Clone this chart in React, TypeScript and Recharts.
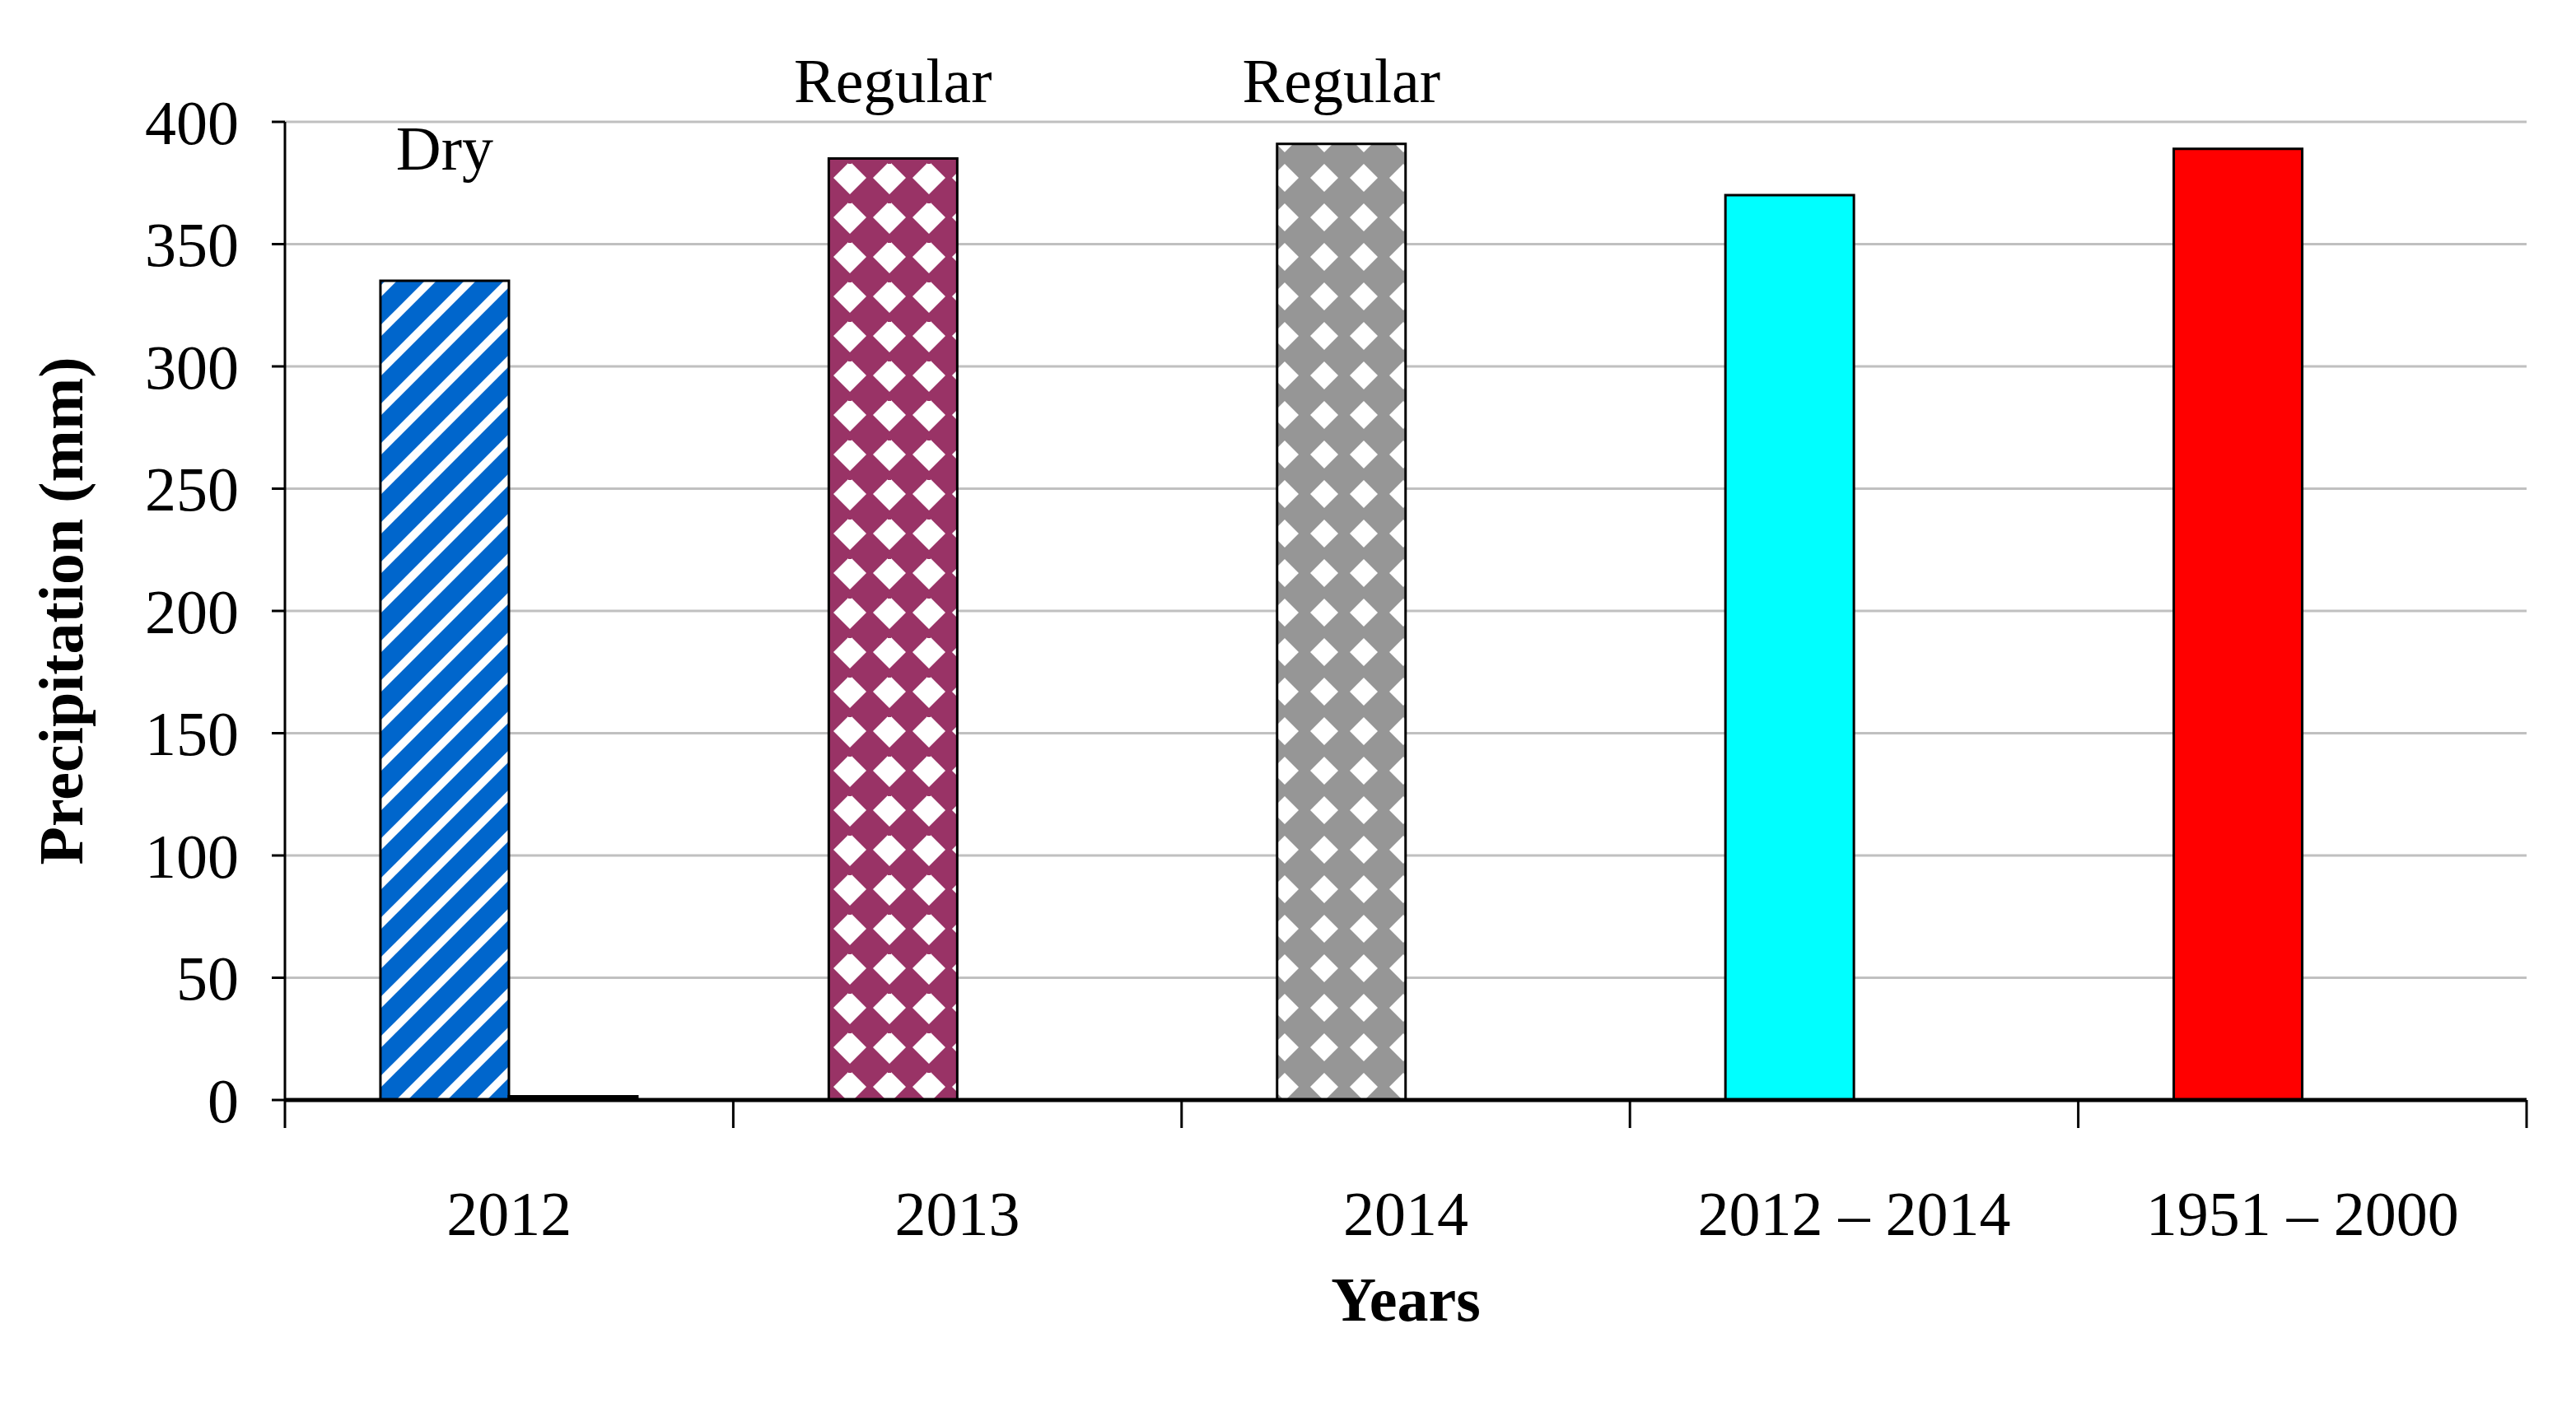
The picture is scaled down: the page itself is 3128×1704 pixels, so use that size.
import React from "react";
import {
  BarChart,
  Bar,
  Cell,
  XAxis,
  YAxis,
  CartesianGrid,
  LabelList,
  Label,
} from "recharts";

const categories = ["2012", "2013", "2014", "2012 – 2014", "1951 – 2000"];
const precipitation = [335, 385, 391, 370, 389];
const secondSeries = [1.5, 0, 0, 0, 0];
const barNotes = ["Dry", "Regular", "Regular", "", ""];
const yTicks = [0, 50, 100, 150, 200, 250, 300, 350, 400];

const fills = ["url(#stripes)", "url(#plum)", "url(#grey)", "#00FFFF", "#FF0000"];

const data = categories.map((year, i) => ({
  year,
  precip: precipitation[i],
  other: secondSeries[i],
  note: barNotes[i],
}));

const W = 3128;
const H = 1704;
const MARGIN = { top: 148, right: 60, left: 0, bottom: 0 };
const Y_AXIS_W = 346;
const X_AXIS_H = 368;
const PLOT_W = W - MARGIN.left - MARGIN.right - Y_AXIS_W;
const BAND = PLOT_W / categories.length;
const FONT = "'Liberation Serif', 'Times New Roman', serif";
const FS = 76;

const XTick = (props: any) => {
  const { x, y, payload, index } = props;
  const last = index === categories.length - 1;
  return (
    <g>
      <line x1={x - BAND / 2} x2={x - BAND / 2} y1={y} y2={y + 34} stroke="#000" strokeWidth={3} />
      {last && (
        <line x1={x + BAND / 2} x2={x + BAND / 2} y1={y} y2={y + 34} stroke="#000" strokeWidth={3} />
      )}
      <text x={x} y={y + 164} textAnchor="middle" fontFamily={FONT} fontSize={FS} fill="#000">
        {payload.value}
      </text>
    </g>
  );
};

// the notes sit at hand-placed heights in the original figure
const renderNote = (props: any) => {
  const { x, y, width, value } = props;
  if (!value) return null;
  const baseline = value === "Dry" ? y - 135 : MARGIN.top - 24;
  return (
    <text
      x={x + width / 2}
      y={baseline}
      textAnchor="middle"
      fontFamily={FONT}
      fontSize={FS}
      fill="#000"
    >
      {value}
    </text>
  );
};

const YTitle = () => {
  const cy = MARGIN.top + (H - MARGIN.top - X_AXIS_H) / 2;
  return (
    <text
      x={100}
      y={cy}
      transform={`rotate(-90, 100, ${cy})`}
      textAnchor="middle"
      fontFamily={FONT}
      fontSize={FS}
      fontWeight="bold"
      fill="#000"
    >
      Precipitation (mm)
    </text>
  );
};

const XTitle = (props: any) => {
  const { viewBox } = props;
  return (
    <text
      x={viewBox.x + viewBox.width / 2}
      y={viewBox.y + 268}
      textAnchor="middle"
      fontFamily={FONT}
      fontSize={FS}
      fontWeight="bold"
      fill="#000"
    >
      Years
    </text>
  );
};

export default function App() {
  return (
    <div style={{ position: "absolute", left: 0, top: 0, width: W, height: H, background: "#fff" }}>
      <BarChart
        width={W}
        height={H}
        data={data}
        margin={MARGIN}
        barCategoryGap="21.3%"
        barGap={0}
      >
        <defs>
          <pattern id="stripes" patternUnits="userSpaceOnUse" width={48} height={48}>
            <rect width={48} height={48} fill="#0066CC" />
            <path d="M-12,12 L12,-12 M0,48 L48,0 M36,60 L60,36" stroke="#FFFFFF" strokeWidth={10} />
          </pattern>
          <pattern id="plum" patternUnits="userSpaceOnUse" width={48} height={48}>
            <rect width={48} height={48} fill="#993366" />
            <polygon points="24,4 44,24 24,44 4,24" fill="#FFFFFF" />
            <rect x={22} y={0} width={4} height={7} fill="#993366" />
          </pattern>
          <pattern id="grey" patternUnits="userSpaceOnUse" width={48} height={48}>
            <rect width={48} height={48} fill="#969696" />
            <polygon points="24,7 41,24 24,41 7,24" fill="#FFFFFF" />
          </pattern>
        </defs>
        <CartesianGrid vertical={false} stroke="#C0C0C0" strokeWidth={3} />
        <XAxis
          dataKey="year"
          height={X_AXIS_H}
          interval={0}
          tickLine={false}
          tickSize={0}
          tickMargin={0}
          tick={<XTick />}
          axisLine={{ stroke: "#000", strokeWidth: 5 }}
        >
          <Label content={<XTitle />} />
        </XAxis>
        <YAxis
          width={Y_AXIS_W}
          domain={[0, 400]}
          ticks={yTicks}
          interval={0}
          tickSize={16}
          tickMargin={40}
          tickLine={{ stroke: "#000", strokeWidth: 3 }}
          axisLine={{ stroke: "#000", strokeWidth: 3 }}
          tick={{ fontFamily: FONT, fontSize: FS, fill: "#000" }}
        >
          <Label content={<YTitle />} />
        </YAxis>
        <Bar dataKey="precip" stroke="#000" strokeWidth={3} isAnimationActive={false}>
          {data.map((d, i) => (
            <Cell key={d.year} fill={fills[i]} />
          ))}
          <LabelList dataKey="note" content={renderNote} />
        </Bar>
        <Bar dataKey="other" fill="#000" stroke="#000" strokeWidth={3} isAnimationActive={false} />
      </BarChart>
    </div>
  );
}
